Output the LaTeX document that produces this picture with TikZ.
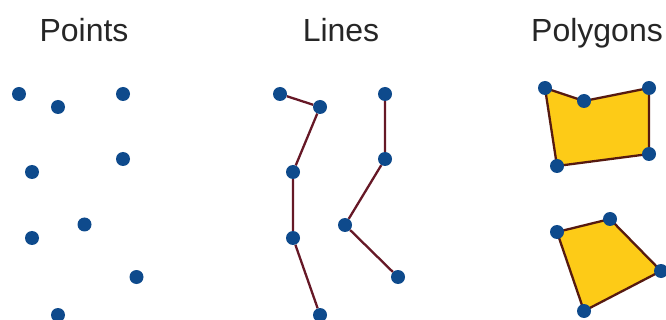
\documentclass[tikz,border=0pt]{standalone}
\usepackage{fontspec}
\setmainfont{Liberation Sans}
\usepackage{tikz}
\usetikzlibrary{backgrounds}
\definecolor{dotblue}{HTML}{0E4A8C}
\definecolor{linered}{HTML}{661826}
\definecolor{polyedge}{HTML}{561A10}
\definecolor{polyfill}{HTML}{FDCB17}
\begin{document}
\begin{tikzpicture}[x=1pt, y=-1pt,
  title/.style={anchor=base, inner sep=0pt, text=black!85,
    font=\fontsize{32}{32}\selectfont},
  dot/.style={circle, fill=dotblue, minimum size=14pt, inner sep=0pt},
  segment/.style={draw=linered, line width=2.3pt},
  area/.style={fill=polyfill, draw=polyedge, line width=2.3pt, line join=round}
]
\useasboundingbox (0,0) rectangle (666,320);
\clip (0,0) rectangle (666,320);
% titles
\node[title] (tpoints) at (84,41.5) {Points};
\node[title] (tlines) at (341,41.5) {Lines};
\node[title] (tpolys) at (597,41.5) {Polygons};
% points
\node[dot] (p1) at (19,94) {};
\node[dot] (p2) at (58,107) {};
\node[dot] (p3) at (123,94) {};
\node[dot] (p4) at (32,172) {};
\node[dot] (p5) at (123,159) {};
\node[dot] (p6) at (32,238) {};
\node[dot] (p7) at (84.5,224.5) {};
\node[dot] (p8) at (136.5,277) {};
\node[dot] (p9) at (58,315) {};
% first line
\node[dot] (la1) at (280,94) {};
\node[dot] (la2) at (320,107) {};
\node[dot] (la3) at (293,172) {};
\node[dot] (la4) at (293,238) {};
\node[dot] (la5) at (320,315) {};
\draw[segment] (la1) -- (la2) -- (la3) -- (la4) -- (la5);
% second line
\node[dot] (lb1) at (385,94) {};
\node[dot] (lb2) at (385,159) {};
\node[dot] (lb3) at (345,225) {};
\node[dot] (lb4) at (398,277) {};
\draw[segment] (lb1) -- (lb2) -- (lb3) -- (lb4);
% first polygon
\node[dot] (pa1) at (545,88) {};
\node[dot] (pa2) at (584,101) {};
\node[dot] (pa3) at (649,88) {};
\node[dot] (pa4) at (649,154) {};
\node[dot] (pa5) at (557,166) {};
% second polygon
\node[dot] (pb1) at (557,232) {};
\node[dot] (pb2) at (610,219) {};
\node[dot] (pb3) at (661,271) {};
\node[dot] (pb4) at (584,311) {};
\begin{scope}[on background layer]
  \draw[area] (pa1.center) -- (pa2.center) -- (pa3.center) -- (pa4.center)
    -- (pa5.center) -- cycle;
  \draw[area] (pb1.center) -- (pb2.center) -- (pb3.center) -- (pb4.center)
    -- cycle;
\end{scope}
\end{tikzpicture}
\end{document}
